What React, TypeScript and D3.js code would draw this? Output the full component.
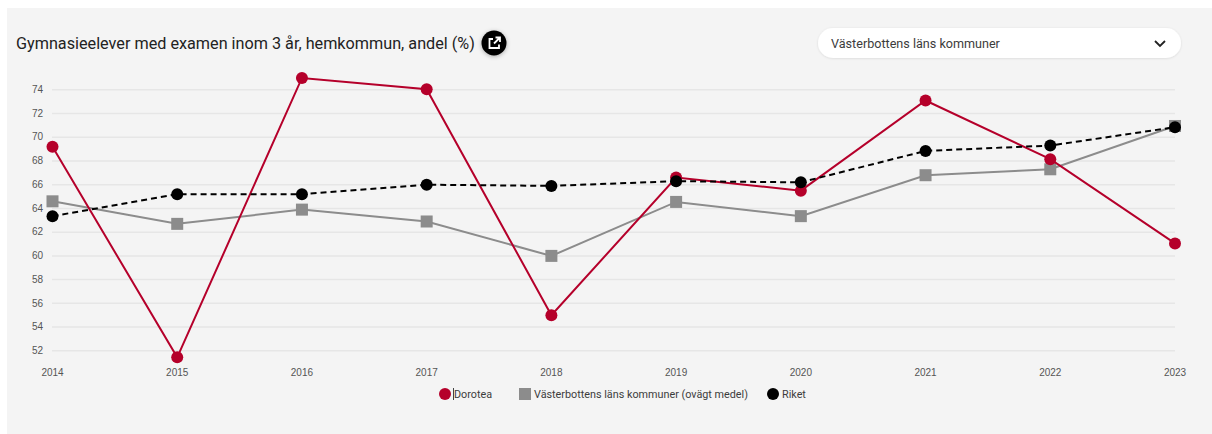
import React from "react";
import * as d3 from "d3";

const years = [2014, 2015, 2016, 2017, 2018, 2019, 2020, 2021, 2022, 2023];
const yTicks = [52, 54, 56, 58, 60, 62, 64, 66, 68, 70, 72, 74];
const dorotea = [69.2, 51.45, 75.0, 74.05, 55.0, 66.6, 65.5, 73.1, 68.15, 61.05];
const vasterbotten = [64.6, 62.7, 63.9, 62.9, 60.0, 64.55, 63.35, 66.8, 67.3, 70.95];
const riket = [63.35, 65.2, 65.2, 66.0, 65.9, 66.3, 66.2, 68.85, 69.3, 70.85];
const title = "Gymnasieelever med examen inom 3 år, hemkommun, andel (%)";
const dropdownLabel = "Västerbottens läns kommuner";
const legendNames = ["Dorotea", "Västerbottens läns kommuner (ovägt medel)", "Riket"];

const RED = "#b5002c";
const GREY = "#8c8c8c";
const BLACK = "#000000";
const TEXT = "#3c3c3c";

export default function App() {
  const x = d3.scaleLinear().domain([2014, 2023]).range([52.5, 1175]);
  const y = d3.scaleLinear().domain([52, 74]).range([350.8, 89.8]);
  const line = d3
    .line<number>()
    .x((_, i) => x(years[i]))
    .y((d) => y(d));

  return (
    <svg
      width={1212}
      height={434}
      style={{ position: "fixed", left: 0, top: 0, display: "block", background: "#fff" }}
      fontFamily="Roboto, sans-serif"
    >
      <defs>
        <filter id="soft" x="-30%" y="-30%" width="160%" height="160%">
          <feGaussianBlur stdDeviation="0.35" />
        </filter>
        <filter id="shadow" x="-50%" y="-50%" width="200%" height="200%">
          <feDropShadow dx="0" dy="1" stdDeviation="2" floodColor="#000" floodOpacity="0.3" />
        </filter>
        <filter id="pill" x="-5%" y="-30%" width="110%" height="160%">
          <feDropShadow dx="0" dy="0.5" stdDeviation="1" floodColor="#000" floodOpacity="0.12" />
        </filter>
      </defs>
      <rect x={7} y={8} width={1205} height={426} fill="#f4f4f4" />

      <text x={16} y={49} fontSize={16.22} fill="#222">
        {title}
      </text>
      <g filter="url(#shadow)">
        <circle cx={494} cy={43} r={12.5} fill="#000" />
      </g>
      <g fill="none" stroke="#fff" strokeWidth={1.8}>
        <path d="M493 39 H489.5 V48 H499 V44.5" />
        <path d="M494 43.5 L499.5 38 M495.5 37.5 H500 V42" />
      </g>

      <g filter="url(#pill)">
        <rect x={818} y={28} width={363} height={30} rx={15} fill="#fff" />
      </g>
      <text x={831} y={48} fontSize={12.6} fill={TEXT}>
        {dropdownLabel}
      </text>
      <path d="M1155 41 L1160 46 L1165 41" fill="none" stroke="#222" strokeWidth={1.8} />

      <g>
        {yTicks.map((t) => (
          <g key={t}>
            <line x1={52} x2={1175} y1={y(t)} y2={y(t)} stroke="#e6e6e6" strokeWidth={1.5} />
            <text x={43} y={y(t) + 3.2} fontSize={10} textAnchor="end" fill="#555" fontFamily="Liberation Sans, sans-serif">
              {t}
            </text>
          </g>
        ))}
        {years.map((t) => (
          <text key={t} x={x(t)} y={376} fontSize={10} textAnchor="middle" fill="#555" fontFamily="Liberation Sans, sans-serif">
            {t}
          </text>
        ))}
      </g>

      <g filter="url(#soft)">
        <path d={line(vasterbotten)!} fill="none" stroke={GREY} strokeWidth={2} />
        {vasterbotten.map((v, i) => (
          <rect key={i} x={x(years[i]) - 6} y={y(v) - 6} width={12} height={12} fill={GREY} />
        ))}
        <path d={line(dorotea)!} fill="none" stroke={RED} strokeWidth={2} />
        {dorotea.map((v, i) => (
          <circle key={i} cx={x(years[i])} cy={y(v)} r={6} fill={RED} />
        ))}
        <path d={line(riket)!} fill="none" stroke={BLACK} strokeWidth={2} strokeDasharray="6 4" />
        {riket.map((v, i) => (
          <circle key={i} cx={x(years[i])} cy={y(v)} r={6} fill={BLACK} />
        ))}

        <circle cx={445} cy={394} r={6} fill={RED} />
        <rect x={519} y={388} width={12} height={12} fill={GREY} />
        <circle cx={773} cy={394} r={6} fill={BLACK} />
      </g>
      <line x1={453.5} x2={453.5} y1={388} y2={400} stroke="#444" strokeWidth={1} />
      <text x={454} y={398} fontSize={10.8} fill={TEXT}>
        {legendNames[0]}
      </text>
      <text x={534} y={398} fontSize={10.8} fill={TEXT}>
        {legendNames[1]}
      </text>
      <text x={782} y={398} fontSize={10.8} fill={TEXT}>
        {legendNames[2]}
      </text>
    </svg>
  );
}
